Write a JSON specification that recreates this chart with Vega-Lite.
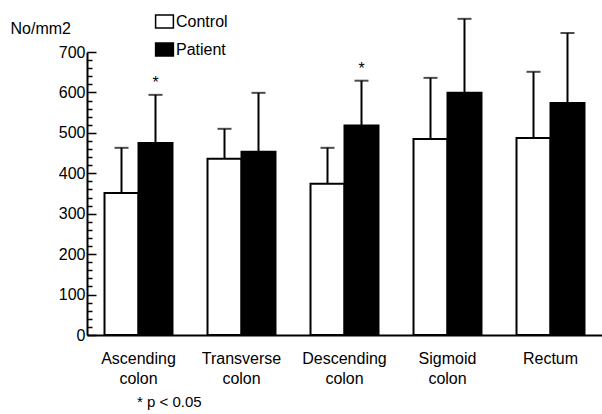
{
  "$schema": "https://vega.github.io/schema/vega-lite/v6.json",
  "width": 515,
  "height": 283,
  "autosize": {"type": "none"},
  "padding": {"left": 87, "top": 52, "right": 0, "bottom": 79},
  "background": "white",
  "config": {"view": {"stroke": null}, "font": "Liberation Sans"},
  "title": {"text": "* p < 0.05", "orient": "bottom", "anchor": "start", "frame": "group", "dx": 50, "offset": 9, "fontSize": 15, "fontWeight": "normal", "font": "Liberation Sans", "color": "black"},
  "data": {"values": [
    {"site": "Ascending colon", "group": "Control", "mean": 351, "upper": 463, "sig": ""},
    {"site": "Ascending colon", "group": "Patient", "mean": 475, "upper": 594, "sig": "*"},
    {"site": "Transverse colon", "group": "Control", "mean": 436, "upper": 510, "sig": ""},
    {"site": "Transverse colon", "group": "Patient", "mean": 453, "upper": 599, "sig": ""},
    {"site": "Descending colon", "group": "Control", "mean": 374, "upper": 463, "sig": ""},
    {"site": "Descending colon", "group": "Patient", "mean": 518, "upper": 629, "sig": "*"},
    {"site": "Sigmoid colon", "group": "Control", "mean": 485, "upper": 636, "sig": ""},
    {"site": "Sigmoid colon", "group": "Patient", "mean": 599, "upper": 782, "sig": ""},
    {"site": "Rectum", "group": "Control", "mean": 487, "upper": 651, "sig": ""},
    {"site": "Rectum", "group": "Patient", "mean": 574, "upper": 747, "sig": ""}
  ]},
  "encoding": {
    "x": {"field": "site", "type": "nominal", "sort": null,
      "scale": {"paddingInner": 0.34, "paddingOuter": 0.17},
      "axis": {"title": null, "ticks": false, "domainColor": "black", "domainWidth": 2, "labelAngle": 0,
        "labelFontSize": 16, "labelColor": "black", "labelBaseline": "middle", "labelPadding": 23, "labelLineHeight": 20,
        "labelExpr": "datum.label == 'Rectum' ? 'Rectum' : split(datum.label, ' ')"}},
    "xOffset": {"field": "group", "type": "nominal", "scale": {"paddingInner": 0, "paddingOuter": 0}}
  },
  "layer": [
    {
      "mark": {"type": "bar", "stroke": "black", "strokeWidth": 2},
      "encoding": {
        "y": {"field": "mean", "type": "quantitative", "scale": {"domain": [0, 700], "nice": false},
          "axis": {"title": "No/mm2", "titleAngle": 0, "titleAlign": "left", "titleBaseline": "middle", "titleX": -77, "titleY": -24,
            "titleFontSize": 16, "titleFontWeight": "normal", "titleColor": "black",
            "values": [0,20,40,60,80,100,120,140,160,180,200,220,240,260,280,300,320,340,360,380,400,420,440,460,480,500,520,540,560,580,600,620,640,660,680,700],
            "tickCount": 50,
            "labelExpr": "datum.value % 100 === 0 ? datum.label : ''",
            "labelOverlap": false,
            "tickSize": {"condition": {"test": "datum.value % 100 === 0", "value": -9}, "value": -5},
            "tickColor": "black", "tickWidth": 1.5, "domainColor": "black", "domainWidth": 2, "grid": false,
            "labelFontSize": 16, "labelColor": "black", "labelPadding": 11}},
        "fill": {"field": "group", "type": "nominal", "scale": {"domain": ["Control", "Patient"], "range": ["white", "black"]},
          "legend": {"orient": "none", "legendX": 69, "legendY": -39, "title": null, "symbolType": "M-1.2,-0.88H1.2V0.88H-1.2Z", "symbolSize": 220,
            "symbolStrokeColor": "black", "symbolStrokeWidth": 1.5, "labelFontSize": 16, "labelColor": "black", "rowPadding": 7, "labelOffset": 3}}
      }
    },
    {
      "mark": {"type": "rule", "strokeWidth": 2, "color": "black"},
      "encoding": {"y": {"field": "mean", "type": "quantitative"}, "y2": {"field": "upper"}}
    },
    {
      "mark": {"type": "tick", "orient": "horizontal", "size": 14, "thickness": 2, "color": "black"},
      "encoding": {"y": {"field": "upper", "type": "quantitative"}}
    },
    {
      "mark": {"type": "text", "dy": -12, "fontSize": 16, "baseline": "middle", "color": "black"},
      "encoding": {"y": {"field": "upper", "type": "quantitative"}, "text": {"field": "sig"}}
    }
  ]
}
